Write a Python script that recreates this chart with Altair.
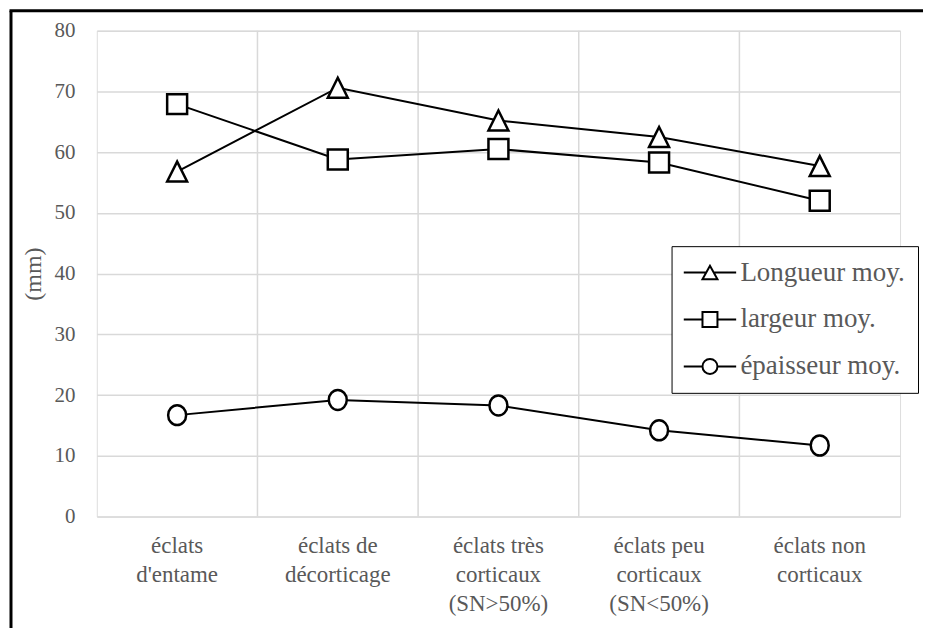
import altair as alt
import pandas as pd

categories = ["éclats d'entame", "éclats de décorticage", "éclats très corticaux (SN>50%)",
              "éclats peu corticaux (SN<50%)", "éclats non corticaux"]
cat_labels = ["éclats|d'entame", "éclats de|décorticage", "éclats très|corticaux|(SN>50%)",
              "éclats peu|corticaux|(SN<50%)", "éclats non|corticaux"]
series = ["Longueur moy.", "largeur moy.", "épaisseur moy."]
longueur = [56.8, 70.6, 65.2, 62.5, 57.7]
largeur = [67.9, 58.8, 60.5, 58.3, 52.0]
epaisseur = [16.7, 19.2, 18.3, 14.2, 11.7]
y_ticks = [0, 10, 20, 30, 40, 50, 60, 70, 80]

rows = []
for name, vals in zip(series, [longueur, largeur, epaisseur]):
    for c, lab, v in zip(categories, cat_labels, vals):
        rows.append({"cat": lab, "series": name, "value": v})
df = pd.DataFrame(rows)

FONT = "Liberation Serif, Times New Roman, serif"
GRAY = "#595959"
GRID = "#d9d9d9"

xscale = alt.Scale(domain=cat_labels, paddingInner=0, paddingOuter=0)
x_axis = alt.Axis(title=None, labelAngle=0, ticks=False, domain=False, grid=False,
                  labelExpr="split(datum.label, '|')", labelLineHeight=29,
                  labelFont=FONT, labelFontSize=23, labelColor=GRAY,
                  labelPadding=18)
x_enc = alt.X("cat:N", scale=xscale, sort=cat_labels, axis=x_axis)
y_enc = alt.Y("value:Q", scale=alt.Scale(domain=[0, 80], nice=False, zero=True),
              axis=alt.Axis(values=y_ticks, grid=True, gridColor=GRID, gridWidth=1.5,
                            domain=False, ticks=False, labelFont=FONT, labelFontSize=21,
                            labelColor=GRAY, labelPadding=22, title="(mm)",
                            titleFont=FONT, titleFontSize=24, titleFontWeight="normal",
                            titleColor=GRAY, titlePadding=8))

# vertical grid lines between categories
vgrid = alt.Chart(pd.DataFrame({"cat": cat_labels[1:]})).mark_rule(
    color=GRID, strokeWidth=1.5
).encode(x=alt.X("cat:N", scale=xscale, sort=cat_labels, bandPosition=0, axis=x_axis))

lines = alt.Chart(df).mark_line(color="black", strokeWidth=2).encode(
    x=x_enc, y=y_enc, detail="series:N")

shape_paths = ["M-1,1L0,-1L1,1Z",
               "M-1,-1L1,-1L1,1L-1,1Z",
               "M-0.9,0A0.9,1 0 1,1 0.9,0A0.9,1 0 1,1 -0.9,0Z"]
points = alt.Chart(df).mark_point(filled=True, fill="white", stroke="black",
                                  strokeWidth=2.5, size=400, opacity=1).encode(
    x=x_enc, y=y_enc,
    shape=alt.Shape("series:N", scale=alt.Scale(domain=series, range=shape_paths), legend=None))

legend_paths = ["M-3.5,0L-0.5,0M0.5,0L3.5,0M-1,0.9L0,-0.9L1,0.9Z",
                "M-3.5,0L-1,0M1,0L3.5,0M-1,-1L1,-1L1,1L-1,1Z",
                "M-3.5,0L-1,0M1,0L3.5,0M-1,0A1,1 0 1,1 1,0A1,1 0 1,1 -1,0Z"]
legend_layer = alt.Chart(df).mark_point(
    filled=False, color="black", strokeWidth=2, opacity=0, size=1).encode(
    x=x_enc, y=y_enc,
    shape=alt.Shape("series:N", scale=alt.Scale(domain=series, range=legend_paths),
                    legend=alt.Legend(title=None, orient="none", legendX=576, legendY=216,
                                      fillColor="white", strokeColor="black", padding=13,
                                      symbolSize=225, symbolStrokeWidth=2, symbolOpacity=1,
                                      symbolStrokeColor="black", symbolOffset=12,
                                      labelFont=FONT, labelFontSize=27, labelColor=GRAY,
                                      labelOffset=17, labelLimit=400, rowPadding=19)))

frame_data = pd.DataFrame({"a": [0]})
frame_left = alt.Chart(frame_data).mark_rule(color="black", strokeWidth=3).encode(
    x=alt.value(-86), y=alt.value(-20), y2=alt.value(600))
frame_top = alt.Chart(frame_data).mark_rule(color="black", strokeWidth=3).encode(
    x=alt.value(-87.5), x2=alt.value(828), y=alt.value(-20))

chart = alt.layer(vgrid, lines, points, legend_layer, frame_left, frame_top).resolve_scale(
    shape="independent").resolve_legend(shape="independent").properties(
    width=805, height=487, padding=0
).configure_view(stroke="black", strokeWidth=1.5).configure(background="white")

chart.save("out.html", embed_options={"renderer": "svg", "actions": False})
